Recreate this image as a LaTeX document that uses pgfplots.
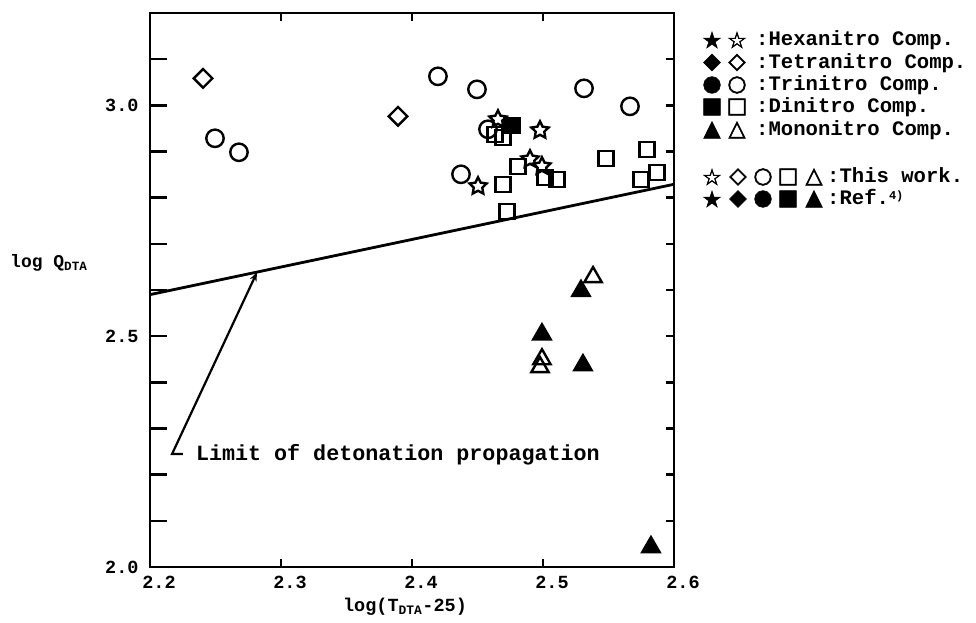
\documentclass[border=0pt]{standalone}
\usepackage{fontspec}
\setmainfont{Liberation Mono}
\newfontfamily\symf{DejaVu Sans}[FakeBold=2.5]
\usepackage{pgfplots}
\pgfplotsset{compat=1.18}
\usetikzlibrary{arrows.meta}

\pgfdeclareplotmark{ostar}{%
  \pgfpathmoveto{\pgfpointpolar{90}{\pgfplotmarksize}}%
  \pgfpathlineto{\pgfpointpolar{126}{0.5\pgfplotmarksize}}%
  \pgfpathlineto{\pgfpointpolar{162}{\pgfplotmarksize}}%
  \pgfpathlineto{\pgfpointpolar{198}{0.5\pgfplotmarksize}}%
  \pgfpathlineto{\pgfpointpolar{234}{\pgfplotmarksize}}%
  \pgfpathlineto{\pgfpointpolar{270}{0.5\pgfplotmarksize}}%
  \pgfpathlineto{\pgfpointpolar{306}{\pgfplotmarksize}}%
  \pgfpathlineto{\pgfpointpolar{342}{0.5\pgfplotmarksize}}%
  \pgfpathlineto{\pgfpointpolar{18}{\pgfplotmarksize}}%
  \pgfpathlineto{\pgfpointpolar{54}{0.5\pgfplotmarksize}}%
  \pgfpathclose
  \pgfusepathqstroke
}

\pgfplotstableread{
x y
2.4977 2.9459
2.4504 2.8247
2.4656 2.9697
2.4901 2.8831
2.4992 2.8680
}\openstar

\pgfplotstableread{
x y
2.2405 3.0584
2.3893 2.9762
}\opendiamond

\pgfplotstableread{
x y
2.2496 2.9286
2.2679 2.8983
2.4198 3.0628
2.4496 3.0346
2.5313 3.0368
2.5664 2.9978
2.4374 2.8506
2.4580 2.9481
}\opencircle

\pgfplotstableread{
x y
2.4809 2.8680
2.5015 2.8442
2.5107 2.8398
2.4695 2.8290
2.4725 2.7706
2.5481 2.8853
2.5794 2.9048
2.5870 2.8550
2.5748 2.8398
2.4634 2.9372
2.4695 2.9307
}\opensquare

\pgfplotstableread{
x y
2.4763 2.9567
}\filledsquare

\pgfplotstableread{
x y
2.5382 2.628
2.4992 2.450
2.4977 2.433
}\opentriangle

\pgfplotstableread{
x y
2.5290 2.598
2.4992 2.504
2.5305 2.437
2.5824 2.043
}\filledtriangle

\pgfplotstableread{
x y
2.2 2.590
2.6 2.829
}\limitline

\begin{document}
\bfseries
\begin{tikzpicture}
\path[use as bounding box] (0,0) rectangle (976pt,623pt);
% tick-only axis (x ticks both sides, right y ticks)
\begin{axis}[
  at={(150pt,56pt)}, anchor=south west,
  scale only axis, width=524pt, height=554pt,
  xmin=2.2, xmax=2.6, ymin=2.0, ymax=3.2,
  axis line style={draw=none},
  tick align=inside, major tick length=8pt,
  tick style={line width=2.4pt, black},
  xtick={2.2,2.3,2.4,2.5,2.6},
  xticklabels={2.2,2.3,2.4,2.5,2.6},
  xtick pos=both, xticklabel pos=bottom,
  ytick={2.1,2.2,2.3,2.4,2.5,2.6,2.7,2.8,2.9,3.0,3.1},
  yticklabels={,,,,,,,,,,,}, ytick pos=right,
  xticklabel style={font=\fontsize{18.5pt}{20pt}\selectfont\bfseries, yshift=-6pt, xshift=9pt},
]
\end{axis}
% main axis
\begin{axis}[
  at={(150pt,56pt)}, anchor=south west,
  scale only axis, width=524pt, height=554pt,
  xmin=2.2, xmax=2.6, ymin=2.0, ymax=3.2,
  axis line style={line width=2.8pt},
  tick align=inside, major tick length=17pt,
  tick style={line width=2.4pt, black},
  xtick=\empty,
  ytick={2.0,2.1,2.2,2.3,2.4,2.5,2.6,2.7,2.8,2.9,3.0,3.1},
  yticklabels={2.0,,,,,2.5,,,,,3.0,},
  ytick pos=left,
  yticklabel style={font=\fontsize{18.5pt}{20pt}\selectfont\bfseries, xshift=-8pt},
  clip=false,
]
\addplot[black, line width=2.8pt] table[x=x,y=y] {\limitline};
\addplot[only marks, mark=ostar, mark size=9pt, line width=2.4pt, black] table[x=x,y=y] {\openstar};
\addplot[only marks, mark=square, mark size=6.6pt, line width=2.4pt, black, mark options={rotate=45}] table[x=x,y=y] {\opendiamond};
\addplot[only marks, mark=o, mark size=8.7pt, line width=2.4pt, black] table[x=x,y=y] {\opencircle};
\addplot[only marks, mark=square, mark size=7.5pt, line width=2.4pt, black] table[x=x,y=y] {\opensquare};
\addplot[only marks, mark=square*, mark size=7.5pt, line width=2.4pt, black, fill=black] table[x=x,y=y] {\filledsquare};
\addplot[only marks, mark=triangle*, mark size=10pt, line width=2.4pt, black, fill=black] table[x=x,y=y] {\filledtriangle};
\addplot[only marks, mark=triangle, mark size=10pt, line width=2.4pt, black] table[x=x,y=y] {\opentriangle};
\draw[line width=2.2pt, -{Stealth[length=9pt,width=7pt,open]}] (axis cs:2.2250,2.2446) -- (axis cs:2.2168,2.2446) -- (axis cs:2.2817,2.6385);
\node[anchor=base west, inner sep=0, font=\fontsize{21.7pt}{23pt}\selectfont\bfseries] at (axis cs:2.2350,2.2316) {Limit of detonation propagation};
\end{axis}
% axis labels
\node[anchor=base west, inner sep=0, font=\fontsize{18pt}{20pt}\selectfont\bfseries] at (10pt,355pt) {log Q\textsubscript{DTA}};
\node[anchor=base, inner sep=0, font=\fontsize{18.5pt}{20pt}\selectfont\bfseries] at (405pt,11pt) {log(T\textsubscript{DTA}-25)};
% legend
\tikzset{sym/.style={anchor=center, inner sep=0, font=\symf\fontsize{22pt}{22pt}\selectfont},
         lt/.style={anchor=base west, inner sep=0, font=\fontsize{20.6pt}{22pt}\selectfont\bfseries}}
\node[sym] at (712pt,583pt) {★}; \node[sym] at (737pt,583pt) {☆};
\node[lt] at (756pt,577pt) {:Hexanitro Comp.};
\node[sym] at (712pt,560.5pt) {◆}; \node[sym] at (737pt,560.5pt) {◇};
\node[lt] at (756pt,554.5pt) {:Tetranitro Comp.};
\node[sym] at (712pt,538pt) {●}; \node[sym] at (737pt,538pt) {○};
\node[lt] at (756pt,532pt) {:Trinitro Comp.};
\node[sym] at (712pt,516pt) {■}; \node[sym] at (737pt,516pt) {□};
\node[lt] at (756pt,510pt) {:Dinitro Comp.};
\node[sym] at (712pt,493pt) {▲}; \node[sym] at (737pt,493pt) {△};
\node[lt] at (756pt,487pt) {:Mononitro Comp.};
\node[sym] at (712pt,446pt) {☆}; \node[sym] at (738pt,446pt) {◇}; \node[sym] at (763pt,446pt) {○}; \node[sym] at (788pt,446pt) {□}; \node[sym] at (814pt,446pt) {△};
\node[lt] at (827pt,440pt) {:This work.};
\node[sym] at (712pt,424pt) {★}; \node[sym] at (738pt,424pt) {◆}; \node[sym] at (763pt,424pt) {●}; \node[sym] at (788pt,424pt) {■}; \node[sym] at (814pt,424pt) {▲};
\node[lt] at (827pt,418pt) {:Ref.\raisebox{5pt}{\fontsize{12pt}{12pt}\selectfont 4)}};
\end{tikzpicture}
\end{document}
